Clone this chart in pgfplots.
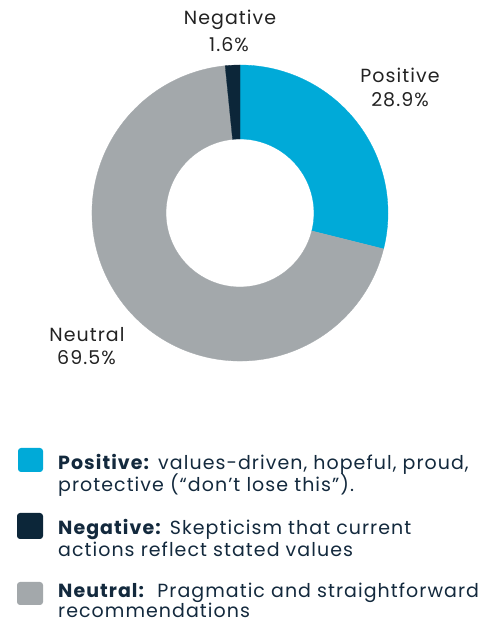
\documentclass[border=0pt]{standalone}
\usepackage{pgfplots}
\pgfplotsset{compat=1.18}
\usepackage{pgfplotstable}
\usetikzlibrary{calc}
\usepackage{fontspec}
\setmainfont{Poppins}[LetterSpace=5.5]
\definecolor{poscol}{HTML}{00AAD8}
\definecolor{negcol}{HTML}{0C2639}
\definecolor{neucol}{HTML}{A3A8AB}
\definecolor{legtext}{HTML}{13293D}
\definecolor{labtext}{HTML}{222222}

\pgfplotstableread{
label value
Positive 28.9
Negative 1.6
Neutral 69.5
}\sentiment
\pgfplotstablegetelem{0}{value}\of\sentiment \let\vPos\pgfplotsretval
\pgfplotstablegetelem{1}{value}\of\sentiment \let\vNeg\pgfplotsretval
\pgfplotstablegetelem{2}{value}\of\sentiment \let\vNeu\pgfplotsretval
\pgfmathsetmacro\aA{90}
\pgfmathsetmacro\aB{90-3.6*\vPos}
\pgfmathsetmacro\aC{\aB-3.6*\vNeu}
\pgfmathsetmacro\aD{\aC-3.6*\vNeg}

\newcommand\sector[3]{%
  \filldraw[#1, line width=0.3pt] ($(axis cs:240,411)+(#2:148pt)$) arc[start angle=#2,end angle=#3,radius=148pt]
   -- ($(axis cs:240,411)+(#3:74pt)$) arc[start angle=#3,end angle=#2,radius=74pt] -- cycle;}

\begin{document}
\begin{tikzpicture}
\path[use as bounding box] (0,0) rectangle (493pt,624pt);
\begin{axis}[
  at={(0,0)}, anchor=origin,
  x=1pt, y=1pt, xmin=0, xmax=493, ymin=0, ymax=624,
  hide axis, clip=false, scale only axis,
]
\sector{poscol}{\aA}{\aB}
\sector{neucol}{\aB}{\aC}
\sector{negcol}{\aC}{\aD}

\tikzset{lab/.style={anchor=base, inner sep=0pt, text=labtext, font=\fontsize{19}{21}\selectfont}}
\node[lab] at (axis cs:230,599) {Negative};
\node[lab] at (axis cs:229,572) {1.6\%};
\node[lab] at (axis cs:400,541) {Positive};
\node[lab] at (axis cs:400,517) {28.9\%};
\node[lab] at (axis cs:87,282) {Neutral};
\node[lab] at (axis cs:86.5,259) {69.5\%};

\fill[poscol, rounded corners=3pt] (axis cs:18,176) rectangle (axis cs:43,152);
\fill[negcol, rounded corners=3pt] (axis cs:17,111) rectangle (axis cs:43,85);
\fill[neucol, rounded corners=3pt] (axis cs:17,42) rectangle (axis cs:43,19);

\tikzset{leg/.style={anchor=base west, inner sep=0pt, text=legtext, font=\fontsize{19}{21}\selectfont}}
\node[leg] at (axis cs:58,154) {\textbf{Positive:} values-driven, hopeful, proud,};
\node[leg] at (axis cs:58,132) {protective (“don’t lose this”).};
\node[leg] at (axis cs:58,89) {\textbf{Negative:} Skepticism that current};
\node[leg] at (axis cs:58,67) {actions reflect stated values};
\node[leg] at (axis cs:58,26) {\textbf{Neutral:}\ \ Pragmatic and straightforward};
\node[leg] at (axis cs:58,6) {recommendations};
\end{axis}
\end{tikzpicture}
\end{document}
